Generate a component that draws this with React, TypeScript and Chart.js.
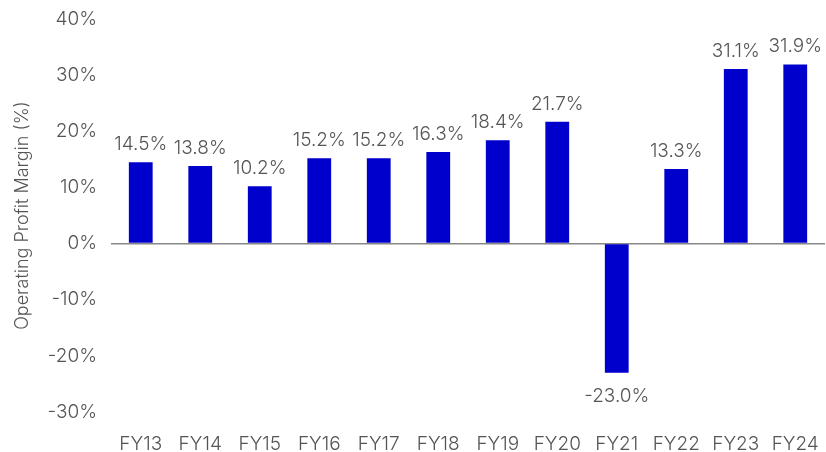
import React, { useEffect, useRef } from "react";
import { Chart, registerables } from "chart.js";

Chart.register(...registerables);

const categories = ["FY13", "FY14", "FY15", "FY16", "FY17", "FY18", "FY19", "FY20", "FY21", "FY22", "FY23", "FY24"];
const margins = [14.5, 13.8, 10.2, 15.2, 15.2, 16.3, 18.4, 21.7, -23.0, 13.3, 31.1, 31.9];
const yTicks = [-30, -20, -10, 0, 10, 20, 30, 40];

const FONT = "Inter, 'Noto Sans', sans-serif";
const TEXT = "#555555";
const SIZE = 19;

const labelPlugin = {
  id: "barLabels",
  afterDatasetsDraw(chart: any) {
    const ctx = chart.ctx;
    const meta = chart.getDatasetMeta(0);
    ctx.save();
    ctx.font = `300 ${SIZE}px ${FONT}`;
    ctx.fillStyle = TEXT;
    ctx.textAlign = "center";
    ctx.textBaseline = "alphabetic";
    meta.data.forEach((bar: any, i: number) => {
      const v = margins[i];
      const txt = v.toFixed(1) + "%";
      if (v >= 0) {
        ctx.fillText(txt, bar.x, bar.y - 12);
      } else {
        ctx.fillText(txt, bar.x, bar.y + 29);
      }
    });
    ctx.restore();
  },
};

export default function App() {
  const ref = useRef<HTMLCanvasElement>(null);
  useEffect(() => {
    document.body.style.margin = "0";
    const chart = new Chart(ref.current!, {
      type: "bar",
      data: {
        labels: categories,
        datasets: [
          {
            data: margins,
            backgroundColor: "#0000CC",
            categoryPercentage: 0.8,
            barPercentage: 0.5,
          },
        ],
      },
      options: {
        responsive: false,
        animation: false,
        layout: { padding: { top: 19, right: 1, bottom: 0, left: 0 } },
        plugins: { legend: { display: false }, tooltip: { enabled: false } },
        scales: {
          x: {
            grid: { display: false },
            border: { display: false },
            afterFit: (axis: any) => {
              axis.height = 40;
              axis.paddingRight = 0;
              axis.paddingLeft = 0;
            },
            ticks: { color: TEXT, font: { family: FONT, size: SIZE, weight: "300" as any }, padding: 13 },
          },
          y: {
            min: -30,
            max: 40,
            afterBuildTicks: (axis: any) => {
              axis.ticks = yTicks.map((v) => ({ value: v }));
            },
            afterFit: (axis: any) => {
              axis.width = 111;
              axis.paddingTop = 0;
              axis.paddingBottom = 0;
            },
            grid: {
              color: (c: any) => (c.tick && c.tick.value === 0 ? "#888888" : "rgba(0,0,0,0)"),
              lineWidth: (c: any) => (c.tick && c.tick.value === 0 ? 1.5 : 0),
              drawTicks: false,
            },
            border: { display: false },
            ticks: {
              color: TEXT,
              font: { family: FONT, size: SIZE, weight: "300" as any },
              padding: 14,
              callback: (v: any) => `${v}%`,
            },
            title: {
              display: true,
              text: "Operating Profit Margin (%)",
              color: TEXT,
              font: { family: FONT, size: 18, weight: "300" as any },
              padding: { top: 12, bottom: 0 },
            },
          },
        },
      },
      plugins: [labelPlugin],
    });
    return () => chart.destroy();
  }, []);
  return (
    <div style={{ width: 826, height: 452 }}>
      <canvas ref={ref} width={826} height={452} style={{ width: 826, height: 452, display: "block" }} />
    </div>
  );
}
